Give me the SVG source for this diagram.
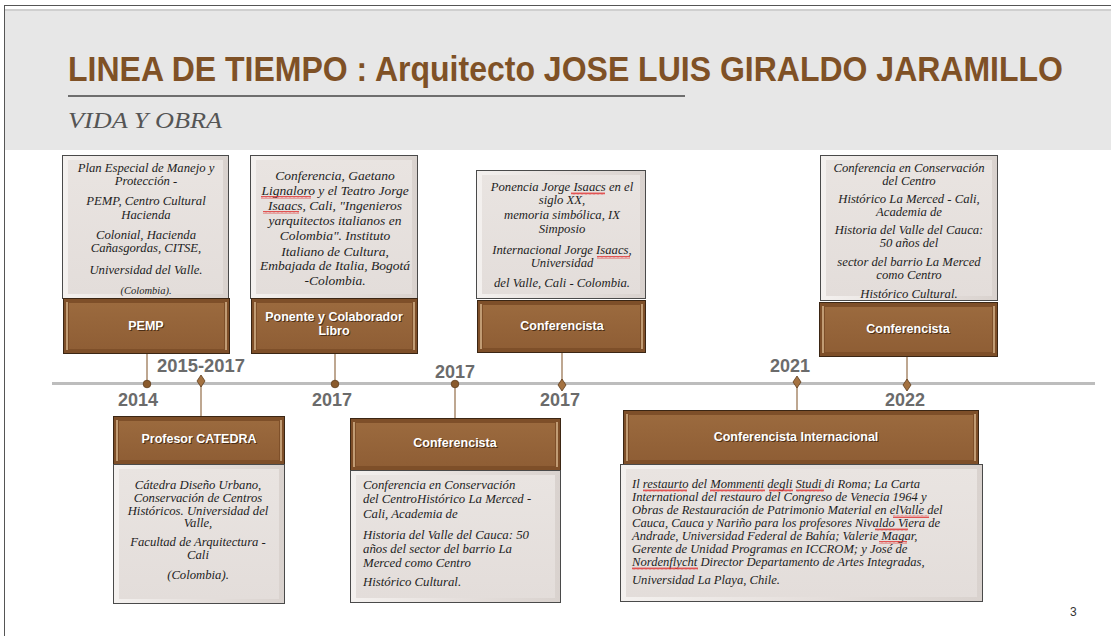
<svg xmlns="http://www.w3.org/2000/svg" width="1111" height="636" viewBox="0 0 1111 636">
<defs>
<style>
.title{font-family:"Liberation Sans",Arial,sans-serif;font-weight:bold;font-size:30px;fill:#7f5126}
.sub{font-family:"Liberation Serif","Times New Roman",serif;font-style:italic;font-size:24px;fill:#555}
.yr{font-family:"Liberation Sans",Arial,sans-serif;font-weight:bold;font-size:18px;fill:#6b6b6b}
.t{font-family:"Liberation Serif","Times New Roman",serif;font-style:italic;font-size:12.7px;fill:#1e1e1e}
.t13{font-size:12.8px}
.t135{font-size:13.5px}
.tint{font-size:12.6px}
.c{text-anchor:middle}
.hd{font-family:"Liberation Sans",Arial,sans-serif;font-weight:bold;font-size:12.5px;fill:#fff;text-anchor:middle}
.hds{font-family:"Liberation Sans",Arial,sans-serif;font-weight:bold;font-size:12.5px;fill:#3a220e;text-anchor:middle;opacity:.8}
.tb{fill:url(#tbEdge);stroke:#4a4a4a;stroke-width:1}
.tbi{fill:url(#tbIn)}
.hb{fill:#7e4f29;stroke:#3b2614;stroke-width:1}
.hbi{fill:url(#hbIn)}
.hl{stroke:#e9c9a0;stroke-width:1.5;opacity:.85}
.conn{stroke:#a88a6c;stroke-width:1.5;fill:none}
.dot{fill:#8a5a2c;stroke:#5e3c1c;stroke-width:.8}
.dia{fill:#a47241;stroke:#5e3c1c;stroke-width:.8}
.sq{fill:url(#squig)}
</style>
<linearGradient id="tbEdge" x1="0" y1="0" x2="1" y2="0">
<stop offset="0" stop-color="#f4f1ef"/><stop offset="0.5" stop-color="#e6e0dd"/><stop offset="1" stop-color="#d9d2ce"/>
</linearGradient>
<linearGradient id="tbIn" x1="0" y1="0" x2="0" y2="1">
<stop offset="0" stop-color="#e9e4e1"/><stop offset="1" stop-color="#e3ddda"/>
</linearGradient>
<linearGradient id="hbIn" x1="0" y1="0" x2="0" y2="1">
<stop offset="0" stop-color="#9b6a3e"/><stop offset="1" stop-color="#8f5e35"/>
</linearGradient>
<pattern id="squig" patternUnits="userSpaceOnUse" width="4" height="3">
<polyline points="0,2.5 1,0.5 2,2.5 3,0.5 4,2.5" fill="none" stroke="#e03030" stroke-width="0.8"/>
</pattern>
</defs>

<rect x="0" y="0" width="1111" height="636" fill="#fff"/>
<rect x="4.5" y="5.5" width="1120" height="640" fill="none" stroke="#555" stroke-width="1"/>
<rect x="5" y="11" width="1106" height="139" fill="#e7e7e7"/>
<rect x="5" y="9" width="1106" height="2" fill="#cfcfcf"/>

<g id="header">
<text class="title" transform="translate(68,81) scale(1,1.15)" x="0" y="0" textLength="995" lengthAdjust="spacingAndGlyphs">LINEA DE TIEMPO : Arquitecto JOSE LUIS GIRALDO JARAMILLO</text>
<line x1="68" y1="96" x2="685" y2="96" stroke="#6e6e6e" stroke-width="2"/>
<text class="sub" x="68" y="128" textLength="154" lengthAdjust="spacingAndGlyphs">VIDA Y OBRA</text>
</g>

<g id="connectors">
<line x1="52" y1="383.5" x2="1095" y2="383.5" stroke="#bdbdbd" stroke-width="3"/>
<line class="conn" x1="147" y1="354" x2="147" y2="383"/>
<line class="conn" x1="201" y1="383" x2="201" y2="416"/>
<line class="conn" x1="335" y1="354" x2="335" y2="383"/>
<line class="conn" x1="455" y1="383" x2="455" y2="418"/>
<line class="conn" x1="562" y1="352" x2="562" y2="383"/>
<line class="conn" x1="797" y1="383" x2="797" y2="410"/>
<line class="conn" x1="907" y1="356" x2="907" y2="383"/>
<circle class="dot" cx="147" cy="384" r="3.8"/>
<path class="dia" d="M201 375 L205 381 L201 387 L197 381 Z"/>
<circle class="dot" cx="335" cy="384" r="3.8"/>
<circle class="dot" cx="455" cy="384" r="3.8"/>
<path class="dia" d="M562 379 L566 385 L562 391 L558 385 Z"/>
<path class="dia" d="M797 376 L801 382 L797 388 L793 382 Z"/>
<path class="dia" d="M907 379 L911 385 L907 391 L903 385 Z"/>
</g>

<g id="years">
<text class="yr" x="118" y="406">2014</text>
<text class="yr" x="157" y="372" textLength="88" lengthAdjust="spacingAndGlyphs">2015-2017</text>
<text class="yr" x="312" y="406">2017</text>
<text class="yr" x="435" y="378">2017</text>
<text class="yr" x="540" y="406">2017</text>
<text class="yr" x="770" y="372">2021</text>
<text class="yr" x="885" y="406">2022</text>
</g>

<g id="node-pemp">
<rect class="tb" x="62.5" y="155.5" width="166" height="143"/>
<rect class="tbi" x="68" y="160" width="155" height="134"/>
<text class="t c" x="146"><tspan x="146" y="172">Plan Especial de Manejo y</tspan><tspan x="146" y="185">Protección -</tspan><tspan x="146" y="205">PEMP, Centro Cultural</tspan><tspan x="146" y="219">Hacienda</tspan><tspan x="146" y="239">Colonial, Hacienda</tspan><tspan x="146" y="252">Cañasgordas, CITSE,</tspan><tspan x="146" y="274">Universidad del Valle.</tspan><tspan x="146" y="294" font-size="10.5">(Colombia).</tspan></text>
<rect class="hb" x="63.5" y="298.5" width="166" height="55"/>
<rect class="hbi" x="69" y="303" width="155" height="46"/>
<line class="hl" x1="67" y1="302" x2="67" y2="350"/><line class="hl" x1="226" y1="302" x2="226" y2="350"/>
<text class="hds" x="147" y="331">PEMP</text><text class="hd" x="146" y="330">PEMP</text>
</g>

<g id="node-ponente">
<rect class="tb" x="250.5" y="155.5" width="167" height="143"/>
<rect class="tbi" x="256" y="160" width="156" height="134"/>
<text class="t t135 c"><tspan x="335" y="180">Conferencia, Gaetano</tspan><tspan x="335" y="195">Lignaloro y el Teatro Jorge</tspan><tspan x="335" y="210">Isaacs, Cali, "Ingenieros</tspan><tspan x="335" y="225">yarquitectos italianos en</tspan><tspan x="335" y="240">Colombia". Instituto</tspan><tspan x="335" y="256">Italiano de Cultura,</tspan><tspan x="335" y="270">Embajada de Italia, Bogotá</tspan><tspan x="335" y="285">-Colombia.</tspan></text>
<rect class="sq" x="261" y="196" width="50" height="3"/>
<rect class="sq" x="263" y="211" width="36" height="3"/>
<rect class="hb" x="251.5" y="298.5" width="166" height="55"/>
<rect class="hbi" x="257" y="303" width="155" height="46"/>
<line class="hl" x1="255" y1="302" x2="255" y2="350"/><line class="hl" x1="414" y1="302" x2="414" y2="350"/>
<text class="hds" x="335" y="322">Ponente y Colaborador</text><text class="hd" x="334" y="321">Ponente y Colaborador</text>
<text class="hds" x="335" y="336">Libro</text><text class="hd" x="334" y="335">Libro</text>
</g>

<g id="node-conf-2017a">
<rect class="tb" x="476.5" y="170.5" width="169" height="128"/>
<rect class="tbi" x="482" y="175" width="158" height="119"/>
<text class="t c"><tspan x="562" y="191">Ponencia Jorge Isaacs en el</tspan><tspan x="562" y="204">siglo XX,</tspan><tspan x="562" y="219">memoria simbólica, IX</tspan><tspan x="562" y="233">Simposio</tspan><tspan x="562" y="254">Internacional Jorge Isaacs,</tspan><tspan x="562" y="267">Universidad</tspan><tspan x="562" y="287">del Valle, Cali - Colombia.</tspan></text>
<rect class="sq" x="571" y="192" width="34" height="3"/>
<rect class="sq" x="597" y="256" width="33" height="3"/>
<rect class="hb" x="477.5" y="300.5" width="168" height="52"/>
<rect class="hbi" x="483" y="305" width="157" height="43"/>
<line class="hl" x1="481" y1="304" x2="481" y2="349"/><line class="hl" x1="642" y1="304" x2="642" y2="349"/>
<text class="hds" x="563" y="331">Conferencista</text><text class="hd" x="562" y="330">Conferencista</text>
</g>

<g id="node-conf-2022">
<rect class="tb" x="820.5" y="155.5" width="177" height="145"/>
<rect class="tbi" x="826" y="160" width="166" height="136"/>
<text class="t c"><tspan x="909" y="172">Conferencia en Conservación</tspan><tspan x="909" y="185">del Centro</tspan><tspan x="909" y="203">Histórico La Merced - Cali,</tspan><tspan x="909" y="216">Academia de</tspan><tspan x="909" y="234">Historia del Valle del Cauca:</tspan><tspan x="909" y="247">50 años del</tspan><tspan x="909" y="266">sector del barrio La Merced</tspan><tspan x="909" y="279">como Centro</tspan><tspan x="909" y="298">Histórico Cultural.</tspan></text>
<rect class="hb" x="819.5" y="302.5" width="178" height="54"/>
<rect class="hbi" x="825" y="307" width="167" height="45"/>
<line class="hl" x1="823" y1="306" x2="823" y2="353"/><line class="hl" x1="994" y1="306" x2="994" y2="353"/>
<text class="hds" x="909" y="334">Conferencista</text><text class="hd" x="908" y="333">Conferencista</text>
</g>

<g id="node-catedra">
<rect class="hb" x="113.5" y="416.5" width="171" height="48"/>
<rect class="hbi" x="119" y="421" width="160" height="39"/>
<line class="hl" x1="117" y1="420" x2="117" y2="461"/><line class="hl" x1="281" y1="420" x2="281" y2="461"/>
<text class="hds" x="200" y="444">Profesor CATEDRA</text><text class="hd" x="199" y="443">Profesor CATEDRA</text>
<rect class="tb" x="113.5" y="464.5" width="171" height="139"/>
<rect class="tbi" x="119" y="469" width="160" height="130"/>
<text class="t c"><tspan x="198" y="489">Cátedra Diseño Urbano,</tspan><tspan x="198" y="502">Conservación de Centros</tspan><tspan x="198" y="515">Históricos. Universidad del</tspan><tspan x="198" y="527">Valle,</tspan><tspan x="198" y="546">Facultad de Arquitectura -</tspan><tspan x="198" y="559">Cali</tspan><tspan x="198" y="579">(Colombia).</tspan></text>
</g>

<g id="node-conf-2017b">
<rect class="hb" x="350.5" y="418.5" width="210" height="52"/>
<rect class="hbi" x="356" y="423" width="199" height="43"/>
<line class="hl" x1="354" y1="422" x2="354" y2="467"/><line class="hl" x1="557" y1="422" x2="557" y2="467"/>
<text class="hds" x="456" y="448">Conferencista</text><text class="hd" x="455" y="447">Conferencista</text>
<rect class="tb" x="350.5" y="470.5" width="210" height="132"/>
<rect class="tbi" x="356" y="475" width="199" height="123"/>
<text class="t t13"><tspan x="363" y="489">Conferencia en Conservación</tspan><tspan x="363" y="503">del CentroHistórico La Merced -</tspan><tspan x="363" y="518">Cali, Academia de</tspan><tspan x="363" y="539">Historia del Valle del Cauca: 50</tspan><tspan x="363" y="553">años del sector del barrio La</tspan><tspan x="363" y="567">Merced como Centro</tspan><tspan x="363" y="586">Histórico Cultural.</tspan></text>
</g>

<g id="node-conf-internacional">
<rect class="hb" x="623.5" y="410.5" width="355" height="54"/>
<rect class="hbi" x="629" y="415" width="344" height="45"/>
<line class="hl" x1="627" y1="414" x2="627" y2="461"/><line class="hl" x1="975" y1="414" x2="975" y2="461"/>
<text class="hds" x="797" y="442">Conferencista Internacional</text><text class="hd" x="796" y="441">Conferencista Internacional</text>
<rect class="tb" x="620.5" y="464.5" width="362" height="137"/>
<rect class="tbi" x="626" y="469" width="351" height="128"/>
<text class="t tint"><tspan x="632" y="488">Il restaurto del Mommenti degli Studi di Roma; La Carta</tspan><tspan x="632" y="501">International del restauro del Congreso de Venecia 1964 y</tspan><tspan x="632" y="514">Obras de Restauración de Patrimonio Material en elValle del</tspan><tspan x="632" y="527">Cauca, Cauca y Nariño para los profesores Nivaldo Viera de</tspan><tspan x="632" y="540">Andrade, Universidad Federal de Bahía; Valerie Magar,</tspan><tspan x="632" y="553">Gerente de Unidad Programas en ICCROM; y José de</tspan><tspan x="632" y="566">Nordenflycht Director Departamento de Artes Integradas,</tspan><tspan x="632" y="584">Universidad La Playa, Chile.</tspan></text>
<rect class="sq" x="643" y="489" width="44" height="3"/>
<rect class="sq" x="710" y="489" width="55" height="3"/>
<rect class="sq" x="769" y="489" width="24" height="3"/>
<rect class="sq" x="796" y="489" width="28" height="3"/>
<rect class="sq" x="893" y="515" width="36" height="3"/>
<rect class="sq" x="875" y="528" width="33" height="3"/>
<rect class="sq" x="879" y="541" width="28" height="3"/>
<rect class="sq" x="632" y="567" width="66" height="3"/>
</g>

<text x="1070" y="616" font-family="Liberation Sans, Arial, sans-serif" font-size="12" fill="#333">3</text>
</svg>
